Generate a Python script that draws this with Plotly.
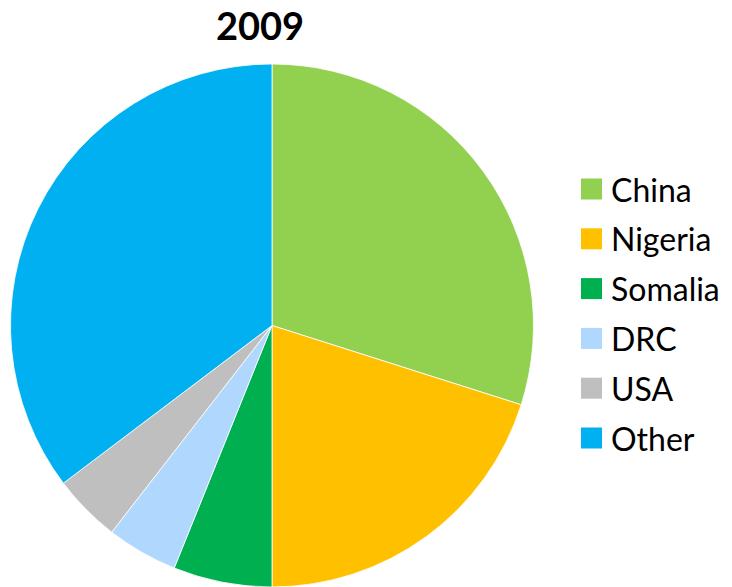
import plotly.graph_objects as go

labels = ["China", "Nigeria", "Somalia", "DRC", "USA", "Other"]
values = [29.9, 20.1, 6.1, 4.4, 4.2, 35.3]
colors = ["#92D050", "#FFC000", "#00B050", "#B0D8FF", "#BFBFBF", "#00B0F0"]
title_text = "2009"

W, H = 732, 587

def px(x):
    return x / W

def py(y):
    return (H - y) / H

fig = go.Figure()
fig.add_trace(go.Pie(
    labels=labels, values=values, sort=False, direction="clockwise", rotation=0,
    marker=dict(colors=colors, line=dict(color="white", width=0.8)),
    textinfo="none", hoverinfo="label+percent", showlegend=False,
    domain=dict(x=[px(10), px(534)], y=[0, py(64)]),
))

shapes, annotations = [], []
leg_x0, leg_y0, gap, sq = 581, 189, 49.8, 21
for i, (lab, col) in enumerate(zip(labels, colors)):
    cy = leg_y0 + i * gap
    shapes.append(dict(type="rect", xref="paper", yref="paper",
                       x0=px(leg_x0), x1=px(leg_x0 + sq),
                       y0=py(cy + sq / 2), y1=py(cy - sq / 2),
                       fillcolor=col, line=dict(width=0)))
    annotations.append(dict(text=lab, xref="paper", yref="paper",
                            x=px(609), y=py(cy), xanchor="left", yanchor="middle",
                            showarrow=False, font=dict(family="Lato", size=32, color="black")))

annotations.append(dict(text="<b>" + title_text + "</b>", xref="paper", yref="paper",
                        x=px(260), y=py(25), xanchor="center", yanchor="middle",
                        showarrow=False, font=dict(family="Lato", size=38, color="black")))

fig.update_layout(
    width=W, height=H, margin=dict(l=0, r=0, t=0, b=0),
    paper_bgcolor="white", plot_bgcolor="white",
    shapes=shapes, annotations=annotations,
)

fig.write_html("out.html", config={"displayModeBar": False},
               post_script="document.body.style.margin='0px';")
